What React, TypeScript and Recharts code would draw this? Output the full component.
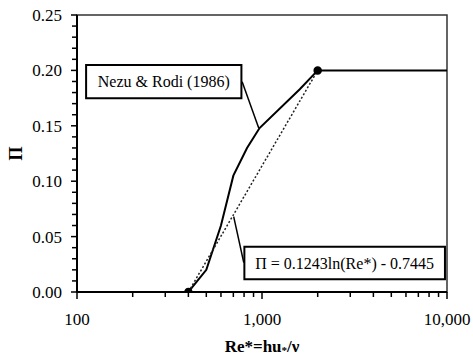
import React from "react";
import { LineChart, Line, XAxis, YAxis, ReferenceArea, ReferenceLine, Label } from "recharts";

const FONT = "Liberation Serif, Times New Roman, serif";

// Re* axis (log)
const RE_TICKS = [100, 200, 300, 400, 500, 600, 700, 800, 900, 1000, 2000, 3000, 4000, 5000, 6000, 7000, 8000, 9000, 10000];
const RE_MAJOR = [100, 1000, 10000];
const RE_MAJOR_LABELS = ["100", "1,000", "10,000"];

// Π axis
const PI_TICKS = [
  0, 0.01, 0.02, 0.03, 0.04, 0.05, 0.06, 0.07, 0.08, 0.09, 0.1, 0.11, 0.12, 0.13, 0.14, 0.15, 0.16, 0.17, 0.18, 0.19, 0.2,
  0.21, 0.22, 0.23, 0.24, 0.25,
];
const PI_MAJOR = [0, 0.05, 0.1, 0.15, 0.2, 0.25];
const PI_MAJOR_LABELS = ["0.00", "0.05", "0.10", "0.15", "0.20", "0.25"];

// Nezu & Rodi (1986) curve
const NEZU_RE = [400, 500, 600, 700, 830, 970, 1600, 2000, 10000];
const NEZU_PI = [0, 0.02, 0.06, 0.105, 0.13, 0.148, 0.183, 0.2, 0.2];

// log fit end points
const FIT_RE = [400, 2000];
const FIT_PI = [0, 0.2];

const nezuData = NEZU_RE.map((re, i) => ({ re, pi: NEZU_PI[i] }));
const fitData = FIT_RE.map((re, i) => ({ re, pi: FIT_PI[i] }));

// annotation boxes / leaders, in data units
const NEZU_BOX = { x1: 112, x2: 774, y1: 0.1748, y2: 0.2049 };
const NEZU_LEADER = [{ x: 781, y: 0.1898 }, { x: 961, y: 0.1477 }];
const EQ_BOX = { x1: 803, x2: 9750, y1: 0.0115, y2: 0.0409 };
const EQ_LEADER = [{ x: 703, y: 0.068 }, { x: 797, y: 0.0265 }];

function ReTick(props: any) {
  const x = Number(props.x);
  const y = Number(props.y);
  const i = RE_MAJOR.indexOf(props.payload.value);
  const major = i >= 0;
  const len = major ? 7 : 5;
  return (
    <g>
      <path d={`M${x},${y}L${x},${y + len}`} stroke="#000" strokeWidth={1.5} fill="none" />
      {major && (
        <text x={x} y={y + 33} textAnchor="middle" fontSize={17} style={{ fontFamily: FONT }} fill="#000">
          {RE_MAJOR_LABELS[i]}
        </text>
      )}
    </g>
  );
}

function PiTick(props: any) {
  const x = Number(props.x);
  const y = Number(props.y);
  const i = PI_MAJOR.indexOf(props.payload.value);
  const major = i >= 0;
  const len = major ? 6 : 5;
  return (
    <g>
      <path d={`M${x - len},${y}L${x},${y}`} stroke="#000" strokeWidth={1.5} fill="none" />
      {major && (
        <text x={x - 15} y={y + 6} textAnchor="end" fontSize={17} style={{ fontFamily: FONT }} fill="#000">
          {PI_MAJOR_LABELS[i]}
        </text>
      )}
    </g>
  );
}

function XTitle({ viewBox }: any) {
  const { x, y, width } = viewBox;
  return (
    <text
      x={x + width / 2}
      y={y + 60}
      textAnchor="middle"
      fontSize={17}
      fontWeight="bold"
      style={{ fontFamily: FONT }}
      fill="#000"
    >
      Re*=hu
      <tspan fontSize={11} dy={2}>*</tspan>
      <tspan dy={-2}>/ν</tspan>
    </text>
  );
}

function YTitle({ viewBox }: any) {
  const { y, height } = viewBox;
  const cy = y + height / 2;
  return (
    <text
      x={16}
      y={cy}
      transform={`rotate(-90, 16, ${cy})`}
      textAnchor="middle"
      dominantBaseline="central"
      fontSize={18}
      fontWeight="bold"
      style={{ fontFamily: FONT }}
      fill="#000"
    >
      Π
    </text>
  );
}

export default function App() {
  return (
    <div
      style={{ position: "absolute", left: 0, top: 0, width: 473, height: 358, background: "#fff", fontFamily: FONT }}
    >
      <LineChart width={473} height={358} margin={{ top: 15, right: 26, left: 0, bottom: 0 }}>
        <XAxis
          dataKey="re"
          type="number"
          scale="log"
          domain={[100, 10000]}
          allowDataOverflow
          ticks={RE_TICKS}
          interval={0}
          tickSize={0}
          tickMargin={0}
          tickLine={false}
          tick={<ReTick />}
          axisLine={{ stroke: "#000", strokeWidth: 2 }}
          height={66}
        >
          <Label content={<XTitle />} />
        </XAxis>
        <YAxis
          type="number"
          domain={[0, 0.25]}
          allowDataOverflow
          ticks={PI_TICKS}
          interval={0}
          tickSize={0}
          tickMargin={0}
          tickLine={false}
          tick={<PiTick />}
          axisLine={{ stroke: "#000", strokeWidth: 2 }}
          width={77}
        >
          <Label content={<YTitle />} />
        </YAxis>

        <ReferenceArea x1={100} x2={10000} y1={0} y2={0.25} fill="none" stroke="#333" strokeWidth={1.5} />

        <Line
          data={nezuData}
          dataKey="pi"
          type="linear"
          stroke="#000"
          strokeWidth={2}
          dot={false}
          isAnimationActive={false}
        />
        <Line
          data={fitData}
          dataKey="pi"
          type="linear"
          stroke="#222"
          strokeWidth={1.5}
          strokeDasharray="2 2"
          dot={{ r: 3.5, fill: "#000", stroke: "#000", strokeDasharray: "0" }}
          isAnimationActive={false}
        />

        <ReferenceLine segment={NEZU_LEADER} stroke="#000" strokeWidth={1.5} />
        <ReferenceArea {...NEZU_BOX} fill="#fff" fillOpacity={1} stroke="#000" strokeWidth={2}>
          <Label value="Nezu & Rodi (1986)" position="center" fill="#000" fontSize={16} fontFamily={FONT} />
        </ReferenceArea>

        <ReferenceLine segment={EQ_LEADER} stroke="#000" strokeWidth={1.5} />
        <ReferenceArea {...EQ_BOX} fill="#fff" fillOpacity={1} stroke="#000" strokeWidth={2}>
          <Label value="Π = 0.1243ln(Re*)  - 0.7445" position="center" fill="#000" fontSize={16} fontFamily={FONT} />
        </ReferenceArea>
      </LineChart>
    </div>
  );
}
